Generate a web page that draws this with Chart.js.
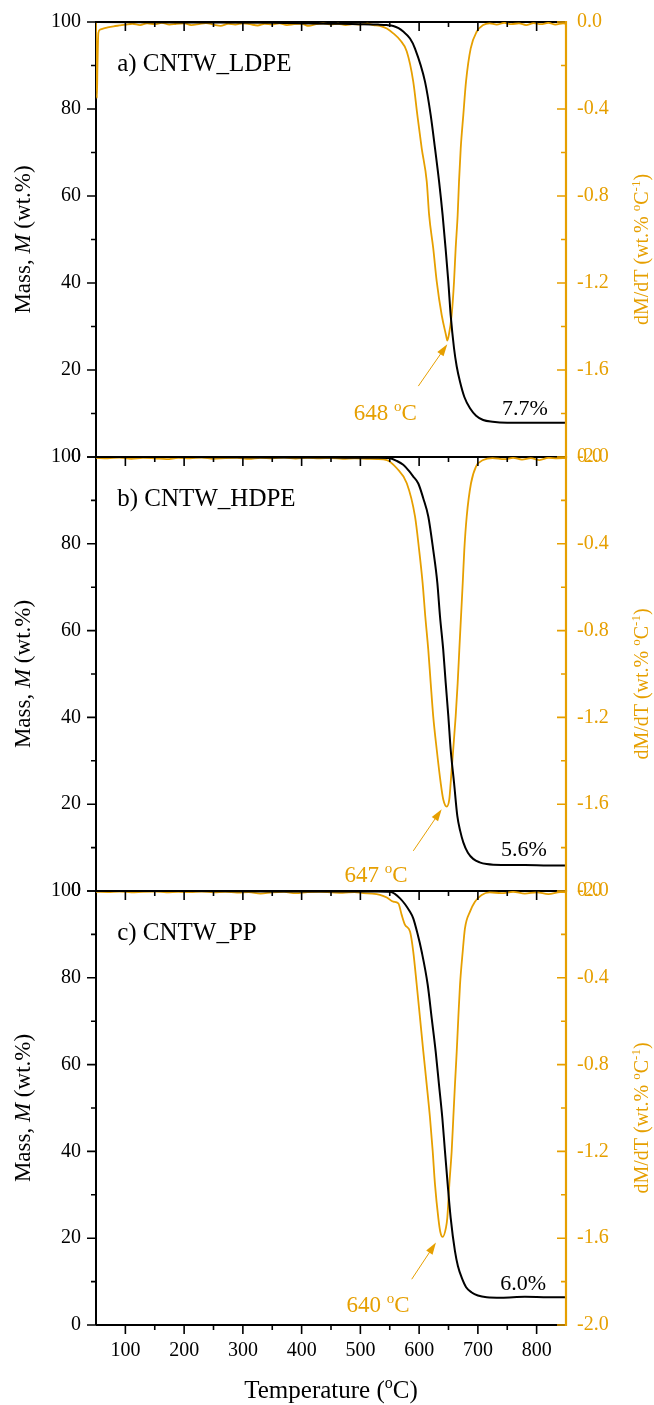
<!DOCTYPE html>
<html>
<head>
<meta charset="utf-8">
<script src="https://cdn.jsdelivr.net/npm/chart.js@4.4.1/dist/chart.umd.min.js"></script>
<style>
  body { margin: 0; background: #fff; }
  #wrap { position: relative; width: 654px; height: 1405px; }
  #wrap canvas { position: absolute; left: 0; top: 0; }
</style>
</head>
<body>
<div id="wrap">
  <canvas id="c1" width="654" height="1405"></canvas>
  <canvas id="c2" width="654" height="1405"></canvas>
  <canvas id="c3" width="654" height="1405"></canvas>
</div>
<script>
// tick labels
const tempTicks = [100, 200, 300, 400, 500, 600, 700, 800];
const massTicks = [0, 20, 40, 60, 80, 100];
const dtgTicks = [0, -0.4, -0.8, -1.2, -1.6, -2.0];

const panelNames = ['a) CNTW_LDPE', 'b) CNTW_HDPE', 'c) CNTW_PP'];
const peakTemps = ['648', '647', '640'];
const residues = ['7.7%', '5.6%', '6.0%'];

// a) LDPE
const ldpeMassT = [50, 200, 350, 450, 500, 530, 545, 556, 565, 573, 584.5, 593, 610, 619.7, 627, 634, 640, 645, 649.7, 653.7,
                   659.4, 664, 669.6, 677, 686.6, 697, 709, 725, 750, 800, 850];
const ldpeMass  = [100, 99.9, 99.8, 99.6, 99.5, 99.4, 99.3, 99.1, 98.6, 97.8, 96.2, 93.9, 86.3, 78.6, 71.0, 63.3, 55.6, 48.0, 40.3, 32.6,
                   25.0, 20.8, 17.3, 13.8, 11.2, 9.5, 8.5, 8.1, 7.9, 7.9, 7.9];
const ldpeDtgT = [50, 51.5, 52.5, 54, 57, 62, 70, 80, 90, 100,
                  112, 125, 137, 150, 162, 175, 187, 200, 212, 225,
                  237, 250, 262, 275, 287, 300, 312, 325, 337, 350,
                  362, 375, 387, 400, 412, 425, 437, 450, 462, 475,
                  487, 500, 512, 522, 533, 545, 556, 567.5, 579, 590,
                  597, 604.4, 613, 617, 624, 630, 638.4, 645.7, 648, 650.5,
                  655.4, 659.4, 662.2, 665.6, 667.9, 670.8, 675.2, 679.8, 687.8, 698,
                  709, 720, 732, 745, 757, 770, 782, 795, 807, 820,
                  832, 845, 850];
const ldpeDtg  = [-0.005, -0.35, -0.2, -0.05, -0.035, -0.03, -0.025, -0.02, -0.016, -0.012,
                  -0.008, -0.014, -0.006, -0.01, -0.004, -0.012, -0.008, -0.006, -0.014, -0.01,
                  -0.005, -0.012, -0.018, -0.008, -0.012, -0.006, -0.01, -0.016, -0.008, -0.012,
                  -0.006, -0.014, -0.01, -0.008, -0.018, -0.01, -0.006, -0.012, -0.008, -0.014,
                  -0.01, -0.012, -0.008, -0.014, -0.018, -0.03, -0.052, -0.083, -0.136, -0.274,
                  -0.428, -0.581, -0.734, -0.887, -1.04, -1.194, -1.347, -1.439, -1.465, -1.44,
                  -1.347, -1.194, -1.04, -0.887, -0.734, -0.581, -0.428, -0.274, -0.121, -0.045,
                  -0.014, -0.006, -0.012, -0.004, -0.01, -0.006, -0.014, -0.005, -0.01, -0.004,
                  -0.012, -0.006, -0.008];

// b) HDPE
const hdpeMassT = [50, 200, 350, 450, 500, 530, 550.4, 562, 573, 582, 590, 598.6, 607, 615.6, 624, 631, 635.5, 641, 645.2, 649.7,
                   653.7, 659.4, 665, 670, 675.2, 683, 692, 703, 715, 740, 780, 820, 850];
const hdpeMass  = [100, 100, 99.9, 99.9, 99.8, 99.8, 99.7, 99.1, 98.2, 96.9, 95.5, 93.9, 90.5, 86.3, 78.6, 71.0, 63.3, 55.6, 48.0, 40.3,
                   32.6, 25.0, 17.3, 13.8, 11.2, 8.8, 7.4, 6.6, 6.2, 6.0, 6.0, 5.9, 5.9];
const hdpeDtgT = [50, 70, 90, 110, 130, 150, 170, 190, 210, 230,
                  250, 270, 290, 310, 330, 350, 370, 390, 410, 430,
                  450, 470, 490, 510, 528, 545, 562, 579, 593, 600,
                  606, 610.5, 615.6, 619.7, 624, 630, 636.7, 641, 647, 651.4,
                  653.7, 658, 662.2, 665.6, 668.4, 671.3, 674.2, 676.9, 681, 688.3,
                  696.8, 709, 725, 745, 760, 775, 790, 805, 820, 835,
                  850];
const hdpeDtg  = [-0.004, -0.006, -0.003, -0.008, -0.004, -0.006, -0.01, -0.004, -0.006, -0.003,
                  -0.008, -0.005, -0.004, -0.009, -0.004, -0.006, -0.003, -0.007, -0.004, -0.006,
                  -0.005, -0.008, -0.006, -0.008, -0.01, -0.014, -0.052, -0.121, -0.274, -0.428,
                  -0.582, -0.735, -0.889, -1.042, -1.195, -1.349, -1.502, -1.577, -1.611, -1.577,
                  -1.502, -1.349, -1.195, -1.042, -0.889, -0.735, -0.582, -0.428, -0.274, -0.121,
                  -0.044, -0.014, -0.005, -0.01, -0.004, -0.012, -0.005, -0.014, -0.004, -0.006,
                  -0.005];

// c) PP
const ppMassT = [50, 200, 350, 450, 500, 530, 550.4, 567.5, 584.5, 590, 597, 604.4, 614.6, 621.4, 628.2, 633.8, 639.5, 644, 648.6, 653.7,
                 661, 666, 672.5, 680, 689.5, 700, 715, 740, 780, 820, 850];
const ppMass  = [100, 100, 99.9, 99.9, 99.9, 99.9, 99.8, 98.3, 95.2, 93.7, 90.3, 86.0, 78.4, 70.7, 63.0, 55.4, 47.7, 40.0, 32.4, 24.7,
                 17.0, 13.6, 10.9, 8.7, 7.5, 6.8, 6.4, 6.3, 6.5, 6.4, 6.4];
const ppDtgT = [50, 70, 90, 110, 130, 150, 170, 190, 210, 230,
                250, 270, 290, 310, 330, 350, 370, 390, 410, 430,
                450, 470, 490, 505, 520, 533.4, 545, 556, 564.6, 570.3,
                576, 584.5, 590, 595.9, 601.5, 607.1, 612.9, 618.5, 623.1, 627,
                632.6, 636, 640, 645.7, 648, 651.4, 655.4, 658.2, 661, 664,
                666.7, 669.6, 674.2, 678, 686.6, 695, 706.5, 720, 740, 760,
                780, 800, 820, 840, 850];
const ppDtg  = [-0.004, -0.005, -0.003, -0.006, -0.004, -0.003, -0.006, -0.004, -0.005, -0.003,
                -0.006, -0.004, -0.007, -0.005, -0.012, -0.006, -0.004, -0.01, -0.005, -0.004,
                -0.006, -0.008, -0.005, -0.01, -0.012, -0.018, -0.03, -0.049, -0.057, -0.11,
                -0.156, -0.187, -0.279, -0.432, -0.585, -0.739, -0.892, -1.045, -1.199, -1.352,
                -1.505, -1.57, -1.594, -1.551, -1.505, -1.352, -1.199, -1.045, -0.892, -0.739,
                -0.585, -0.432, -0.279, -0.172, -0.095, -0.049, -0.018, -0.006, -0.01, -0.004,
                -0.012, -0.006, -0.014, -0.005, -0.006];

const ORANGE = '#E69F00';
const FONT = '"Liberation Serif", "Times New Roman", serif';
const W = 654, H = 1405;

function zip(xs, ys) {
    const n = Math.min(xs.length, ys.length);
    const out = [];
    for (let i = 0; i < n; i++) out.push({ x: xs[i], y: ys[i] });
    return out;
}

// draw a run of text pieces (for italic M, superscripts)
function richText(ctx, parts, x, y, align) {
    const widths = parts.map(p => {
        ctx.font = (p.italic ? 'italic ' : '') + p.size + 'px ' + FONT;
        return ctx.measureText(p.text).width;
    });
    const total = widths.reduce((a, b) => a + b, 0);
    let cx = align === 'center' ? x - total / 2 : (align === 'right' ? x - total : x);
    ctx.textAlign = 'left';
    ctx.textBaseline = 'alphabetic';
    parts.forEach((p, i) => {
        ctx.font = (p.italic ? 'italic ' : '') + p.size + 'px ' + FONT;
        ctx.fillText(p.text, cx, y + (p.dy || 0));
        cx += widths[i];
    });
}

function arrow(ctx, x1, y1, x2, y2) {
    const a = Math.atan2(y2 - y1, x2 - x1);
    const hl = 12, hw = 3.8;
    const c = Math.cos(a), s = Math.sin(a);
    ctx.beginPath();
    ctx.moveTo(x1, y1);
    ctx.lineTo(x2 - hl * 0.7 * c, y2 - hl * 0.7 * s);
    ctx.stroke();
    ctx.beginPath();
    ctx.moveTo(x2, y2);
    ctx.lineTo(x2 - hl * c + hw * s, y2 - hl * s - hw * c);
    ctx.lineTo(x2 - hl * c - hw * s, y2 - hl * s + hw * c);
    ctx.closePath();
    ctx.fill();
}

const decor = {
    id: 'decor',
    beforeDatasetsDraw(chart, args, opts) {
        const { ctx, chartArea: a } = chart;
        ctx.save();
        ctx.strokeStyle = '#000';
        ctx.lineWidth = 2;
        ctx.beginPath();
        ctx.moveTo(a.left, a.bottom);
        ctx.lineTo(a.left, a.top);
        ctx.lineTo(a.right, a.top);
        ctx.moveTo(a.left, a.bottom);
        ctx.lineTo(a.right, a.bottom);
        ctx.stroke();
        ctx.restore();
    },
    afterDatasetsDraw(chart, args, opts) {
        const { ctx, chartArea: a, scales } = chart;
        const sx = scales.x, sy = scales.y, sr = scales.y1;
        ctx.save();
        // black ticks: left outward, top inward, bottom outward on last panel
        ctx.strokeStyle = '#000';
        ctx.lineWidth = 1.6;
        ctx.beginPath();
        for (let v = 0; v <= 100; v += 10) {
            const len = v % 20 === 0 ? 9 : 5;
            const y = sy.getPixelForValue(v);
            ctx.moveTo(a.left - len, y);
            ctx.lineTo(a.left, y);
        }
        for (let t = 100; t <= 800; t += 50) {
            const len = t % 100 === 0 ? 9 : 5;
            const x = sx.getPixelForValue(t);
            ctx.moveTo(x, a.top);
            ctx.lineTo(x, a.top + len);
            if (opts.showX) {
                ctx.moveTo(x, a.bottom);
                ctx.lineTo(x, a.bottom + len);
            }
        }
        ctx.stroke();
        // right axis in orange, ticks inward
        ctx.strokeStyle = ORANGE;
        ctx.beginPath();
        for (let k = 0; k <= 10; k++) {
            const len = k % 2 === 0 ? 9 : 5;
            const y = sr.getPixelForValue(-0.2 * k);
            ctx.moveTo(a.right - len, y);
            ctx.lineTo(a.right, y);
        }
        ctx.stroke();
        ctx.lineWidth = 2.2;
        ctx.beginPath();
        ctx.moveTo(a.right, a.top - 1);
        ctx.lineTo(a.right, a.bottom + 1);
        ctx.stroke();
        ctx.restore();
    },
    afterDraw(chart, args, opts) {
        const { ctx, chartArea: a, scales } = chart;
        const sx = scales.x, sy = scales.y, sr = scales.y1;
        const mid = (a.top + a.bottom) / 2;
        ctx.save();

        // left axis title
        ctx.fillStyle = '#000';
        ctx.save();
        ctx.translate(22, mid);
        ctx.rotate(-Math.PI / 2);
        richText(ctx, [
            { text: 'Mass, ', size: 23 },
            { text: 'M', size: 23, italic: true },
            { text: ' (wt.%)', size: 23 }
        ], 0, 8, 'center');
        ctx.restore();

        // right axis title
        ctx.fillStyle = ORANGE;
        ctx.save();
        ctx.translate(641, mid + 10);
        ctx.rotate(-Math.PI / 2);
        richText(ctx, [
            { text: 'dM/dT (wt.% ', size: 20 },
            { text: 'o', size: 13, dy: -8 },
            { text: 'C', size: 20 },
            { text: '-1', size: 13, dy: -8 },
            { text: ')', size: 20 }
        ], 0, 7, 'center');
        ctx.restore();

        // x axis title on the last panel
        if (opts.showX) {
            ctx.fillStyle = '#000';
            richText(ctx, [
                { text: 'Temperature (', size: 25 },
                { text: 'o', size: 16, dy: -10 },
                { text: 'C)', size: 25 }
            ], (a.left + a.right) / 2, 1398, 'center');
        }

        // panel name
        ctx.fillStyle = '#000';
        ctx.font = '25px ' + FONT;
        ctx.textAlign = 'left';
        ctx.textBaseline = 'middle';
        ctx.fillText(opts.name, sx.getPixelForValue(opts.namePos[0]), sy.getPixelForValue(opts.namePos[1]));

        // residue label
        ctx.font = '22px ' + FONT;
        ctx.textAlign = 'center';
        ctx.fillText(opts.residue, sx.getPixelForValue(opts.residuePos[0]), sy.getPixelForValue(opts.residuePos[1]));

        // peak label and arrow
        ctx.fillStyle = ORANGE;
        ctx.strokeStyle = ORANGE;
        ctx.lineWidth = 1;
        richText(ctx, [
            { text: opts.peak + ' ', size: 23 },
            { text: 'o', size: 15, dy: -9 },
            { text: 'C', size: 23 }
        ], sx.getPixelForValue(opts.peakPos[0]), sr.getPixelForValue(opts.peakPos[1]) + 8, 'center');
        const ar = opts.arrow;
        arrow(ctx, sx.getPixelForValue(ar[0]), sr.getPixelForValue(ar[1]),
                   sx.getPixelForValue(ar[2]), sr.getPixelForValue(ar[3]));
        ctx.restore();
    }
};

const panels = [
    { id: 'c1', top: 22, bottom: 457, massT: ldpeMassT, mass: ldpeMass, dtgT: ldpeDtgT, dtg: ldpeDtg,
      name: panelNames[0], peak: peakTemps[0], residue: residues[0], showX: false,
      namePos: [86, 90.3], residuePos: [780, 11.0], peakPos: [542.5, -1.791], arrow: [598.6, -1.674, 647.9, -1.482] },
    { id: 'c2', top: 457, bottom: 891, massT: hdpeMassT, mass: hdpeMass, dtgT: hdpeDtgT, dtg: hdpeDtg,
      name: panelNames[1], peak: peakTemps[1], residue: residues[1], showX: false,
      namePos: [86, 90.3], residuePos: [778.5, 9.4], peakPos: [526.6, -1.922], arrow: [590.1, -1.815, 638.4, -1.623] },
    { id: 'c3', top: 891, bottom: 1325, massT: ppMassT, mass: ppMass, dtgT: ppDtgT, dtg: ppDtg,
      name: panelNames[2], peak: peakTemps[2], residue: residues[2], showX: true,
      namePos: [86, 90.3], residuePos: [777, 9.5], peakPos: [530, -1.903], arrow: [587.4, -1.789, 628.7, -1.620] }
];

const xTickFont = { family: FONT, size: 20 };
// small line height so the y labels do not push the plot area down
const yTickFont = { family: FONT, size: 20, lineHeight: 0.4 };

panels.forEach(p => {
    const xh = p.showX ? H - p.bottom : 0;
    new Chart(document.getElementById(p.id), {
        type: 'line',
        data: {
            datasets: [{
                label: 'Mass',
                data: zip(p.massT, p.mass),
                yAxisID: 'y',
                borderColor: '#000',
                borderWidth: 2,
                pointRadius: 0,
                cubicInterpolationMode: 'monotone'
            }, {
                label: 'dM/dT',
                data: zip(p.dtgT, p.dtg),
                yAxisID: 'y1',
                borderColor: ORANGE,
                borderWidth: 1.8,
                pointRadius: 0,
                cubicInterpolationMode: 'monotone'
            }]
        },
        options: {
            responsive: false,
            animation: false,
            events: [],
            layout: { padding: { left: 0, right: 0, top: p.top, bottom: H - p.bottom - xh } },
            plugins: {
                legend: { display: false },
                tooltip: { enabled: false },
                decor: p
            },
            scales: {
                x: {
                    type: 'linear',
                    min: 50,
                    max: 850,
                    afterBuildTicks: s => { s.ticks = tempTicks.map(v => ({ value: v })); },
                    afterFit: s => { s.height = xh; },
                    grid: { display: false, drawTicks: false },
                    border: { display: false },
                    ticks: { display: p.showX, font: xTickFont, color: '#000', padding: 14, maxRotation: 0, autoSkip: false }
                },
                y: {
                    position: 'left',
                    min: 0,
                    max: 100,
                    afterBuildTicks: s => { s.ticks = massTicks.map(v => ({ value: v })); },
                    afterFit: s => { s.width = 96; },
                    grid: { display: false, drawTicks: false },
                    border: { display: false },
                    ticks: { font: yTickFont, color: '#000', padding: 15, autoSkip: false }
                },
                y1: {
                    position: 'right',
                    min: -2,
                    max: 0,
                    afterBuildTicks: s => { s.ticks = dtgTicks.map(v => ({ value: v })); },
                    afterFit: s => { s.width = W - 566; },
                    grid: { display: false, drawTicks: false },
                    border: { display: false },
                    ticks: { font: yTickFont, color: ORANGE, padding: 11, autoSkip: false,
                             callback: v => Number(v).toFixed(1) }
                }
            }
        },
        plugins: [decor]
    });
});
</script>
</body>
</html>
